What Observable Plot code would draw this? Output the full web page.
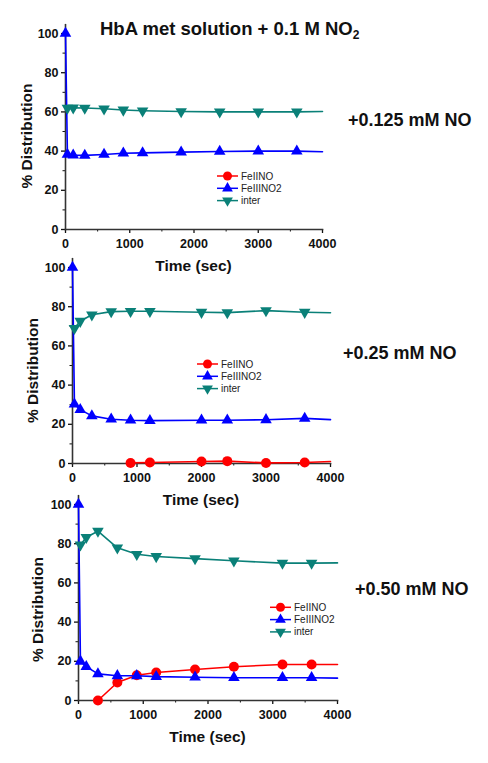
<!DOCTYPE html>
<html><head><meta charset="utf-8">
<script src="https://cdn.jsdelivr.net/npm/d3@7"></script>
<script src="https://cdn.jsdelivr.net/npm/@observablehq/plot@0.6"></script>
<style>
html,body{margin:0;padding:0;background:#fff;}
#chart{position:relative;width:488px;height:763px;overflow:hidden;font-family:"Liberation Sans",Arial,sans-serif;}
#chart svg{position:absolute;left:0;}
</style></head><body><div id="chart"></div>
<script>
const seriesNames = ["FeIINO", "FeIIINO2", "inter"];
const seriesColors = ["#ff0000", "#0000ff", "#0a8078"];
const seriesSymbols = ["circle", "triangle", "triangle"];
const seriesRotate = [0, 0, 180];
const xTicks = [0, 1000, 2000, 3000, 4000];
const xMinorTicks = [500, 1500, 2500, 3500];
const yTicks = [0, 20, 40, 60, 80, 100];
const yMinorTicks = [10, 30, 50, 70, 90];
const endTime = 4000;

const titleMain = "HbA met solution + 0.1 M NO";
const titleSub = "2";
const xLabel = "Time (sec)";
const yLabel = "% Distribution";

// Panel 1: +0.125 mM NO
const p1Label = "+0.125 mM NO";
const p1Time = [0, 30, 120, 300, 600, 900, 1200, 1800, 2400, 3000, 3600];
const p1FeIINO = [null, null, null, null, null, null, null, null, null, null, null];
const p1FeIIINO2 = [100, 38.3, 37.9, 37.8, 38.3, 38.9, 39.1, 39.5, 39.8, 40, 40];
const p1Inter = [null, 62, 62.1, 62, 61.6, 61, 60.6, 60.2, 60, 60, 60];
const p1End = [null, 39.7, 60.2];

// Panel 2: +0.25 mM NO
const p2Label = "+0.25 mM NO";
const p2Time = [0, 30, 120, 300, 600, 900, 1200, 2000, 2400, 3000, 3600];
const p2FeIINO = [null, null, null, null, null, 0.3, 0.5, 1, 1.2, 0.3, 0.5];
const p2FeIIINO2 = [100, 30.3, 27.5, 24.3, 22.6, 22.1, 21.9, 22.1, 22.1, 22.3, 23];
const p2Inter = [null, 69, 72.6, 75.9, 77.5, 77.7, 77.7, 77.2, 77, 78, 77.2];
const p2End = [1, 22.4, 76.9];

// Panel 3: +0.50 mM NO
const p3Label = "+0.50 mM NO";
const p3Time = [0, 30, 120, 300, 600, 900, 1200, 1800, 2400, 3150, 3600];
const p3FeIINO = [null, null, null, 0, 9.2, 12.9, 14.3, 15.8, 17.2, 18.4, 18.4];
const p3FeIIINO2 = [100, 20, 17.3, 13.6, 12.6, 12.6, 12.2, 11.9, 11.6, 11.6, 11.6];
const p3Inter = [null, 79.4, 83.3, 86.4, 77.9, 74.6, 73.5, 72.4, 71.3, 70.1, 70.1];
const p3End = [18.4, 11.4, 70.2];

function rowsFor(time, valuesBySeries, ends) {
  const rows = [];
  valuesBySeries.forEach((vals, s) => {
    vals.forEach((v, i) => { if (v != null) rows.push({t: time[i], v, series: seriesNames[s], marker: true}); });
    if (ends[s] != null) rows.push({t: endTime, v: ends[s], series: seriesNames[s], marker: false});
  });
  return rows;
}

const FONT = '"Liberation Sans", Arial, sans-serif';
const chart = document.getElementById("chart");

const panels = [
  {rows: rowsFor(p1Time, [p1FeIINO, p1FeIIINO2, p1Inter], p1End), top: 0, height: 250, left: 65, right: 322, frameTop: 24.2, frameBottom: 229,
   label: p1Label, labelX: 348, labelY: 125.5, yLabelX: 26.5, yLabelY: 136, legendX: 217, legendY: 176},
  {rows: rowsFor(p2Time, [p2FeIINO, p2FeIIINO2, p2Inter], p2End), top: 250, height: 240, left: 72, right: 330, frameTop: 8.2, frameBottom: 213,
   label: p2Label, labelX: 343, labelY: 358.5, yLabelX: 32.5, yLabelY: 370.5, legendX: 197, legendY: 364},
  {rows: rowsFor(p3Time, [p3FeIINO, p3FeIIINO2, p3Inter], p3End), top: 490, height: 240, left: 78, right: 337, frameTop: 5.2, frameBottom: 210,
   label: p3Label, labelX: 355, labelY: 594.5, yLabelX: 37.5, yLabelY: 609.5, legendX: 270, legendY: 607.3}
];

panels.forEach(p => {
  const svg = Plot.plot({
    width: 488, height: p.height,
    marginLeft: p.left, marginRight: 488 - p.right, marginTop: p.frameTop, marginBottom: p.height - p.frameBottom,
    x: {domain: [0, 4000]},
    y: {domain: [0, 104.5]},
    color: {domain: seriesNames, range: seriesColors},
    style: {fontFamily: FONT, background: "transparent", color: "#111", overflow: "visible"},
    marks: [
      Plot.axisX({ticks: xTicks, tickSize: 4, tickPadding: 6, tickFormat: d => String(d), fontSize: 12.5, fontWeight: "bold", label: null, strokeWidth: 1.3}),
      Plot.axisX({ticks: xMinorTicks, tickSize: 2.5, tickFormat: () => "", label: null, strokeWidth: 1}),
      Plot.axisY({ticks: yTicks, tickSize: 4, tickPadding: 3, tickFormat: d => String(d), fontSize: 12.5, fontWeight: "bold", label: null, strokeWidth: 1.3}),
      Plot.axisY({ticks: yMinorTicks, tickSize: 2.5, tickFormat: () => "", label: null, strokeWidth: 1}),
      Plot.frame({anchor: "left", stroke: "#333", strokeWidth: 1.6}),
      Plot.frame({anchor: "bottom", stroke: "#333", strokeWidth: 1.6}),
      ...seriesNames.flatMap((name, s) => [
        Plot.line(p.rows.filter(d => d.series === name), {x: "t", y: "v", stroke: "series", strokeWidth: 1.6}),
        Plot.dot(p.rows.filter(d => d.marker && d.series === name), {x: "t", y: "v", fill: seriesColors[s], symbol: seriesSymbols[s], rotate: seriesRotate[s], r: s === 0 ? 5 : 4.3})
      ])
    ]
  });
  svg.style.top = p.top + "px";
  chart.appendChild(svg);
});

// Overlay for titles, labels and legends
const overlay = d3.select(chart).append("svg")
  .attr("width", 488).attr("height", 763)
  .style("top", "0px").style("pointer-events", "none")
  .style("font-family", FONT);

const title = overlay.append("text").attr("x", 100).attr("y", 35)
  .attr("font-size", 18.5).attr("font-weight", "bold").attr("fill", "#111");
title.append("tspan").text(titleMain);
title.append("tspan").text(titleSub).attr("font-size", 12).attr("dy", 4);

panels.forEach(p => {
  overlay.append("text").attr("x", p.labelX).attr("y", p.labelY)
    .attr("font-size", 18).attr("font-weight", "bold").attr("fill", "#111").text(p.label);
  overlay.append("text")
    .attr("transform", `translate(${p.yLabelX},${p.yLabelY}) rotate(-90)`)
    .attr("text-anchor", "middle").attr("dy", "0.36em")
    .attr("font-size", 15.5).attr("font-weight", "bold").attr("fill", "#111").text(yLabel);
  overlay.append("text")
    .attr("x", (p.left + p.right) / 2).attr("y", p.top + p.frameBottom + 42)
    .attr("text-anchor", "middle")
    .attr("font-size", 15.5).attr("font-weight", "bold").attr("fill", "#111").text(xLabel);
  // legend
  seriesNames.forEach((name, s) => {
    const y = p.legendY + s * 12.3;
    const g = overlay.append("g");
    g.append("line").attr("x1", p.legendX).attr("x2", p.legendX + 21).attr("y1", y).attr("y2", y)
      .attr("stroke", seriesColors[s]).attr("stroke-width", 1.5);
    const sym = s === 0 ? d3.symbolCircle : d3.symbolTriangle;
    const rr = s === 0 ? 4.5 : 4;
    g.append("path").attr("d", d3.symbol(sym, Math.PI * rr * rr)())
      .attr("transform", `translate(${p.legendX + 10.5},${y}) rotate(${seriesRotate[s]})`)
      .attr("fill", seriesColors[s]);
    g.append("text").attr("x", p.legendX + 24).attr("y", y).attr("dy", "0.35em")
      .attr("font-size", 10).attr("fill", "#222").text(name);
  });
});
</script></body></html>
